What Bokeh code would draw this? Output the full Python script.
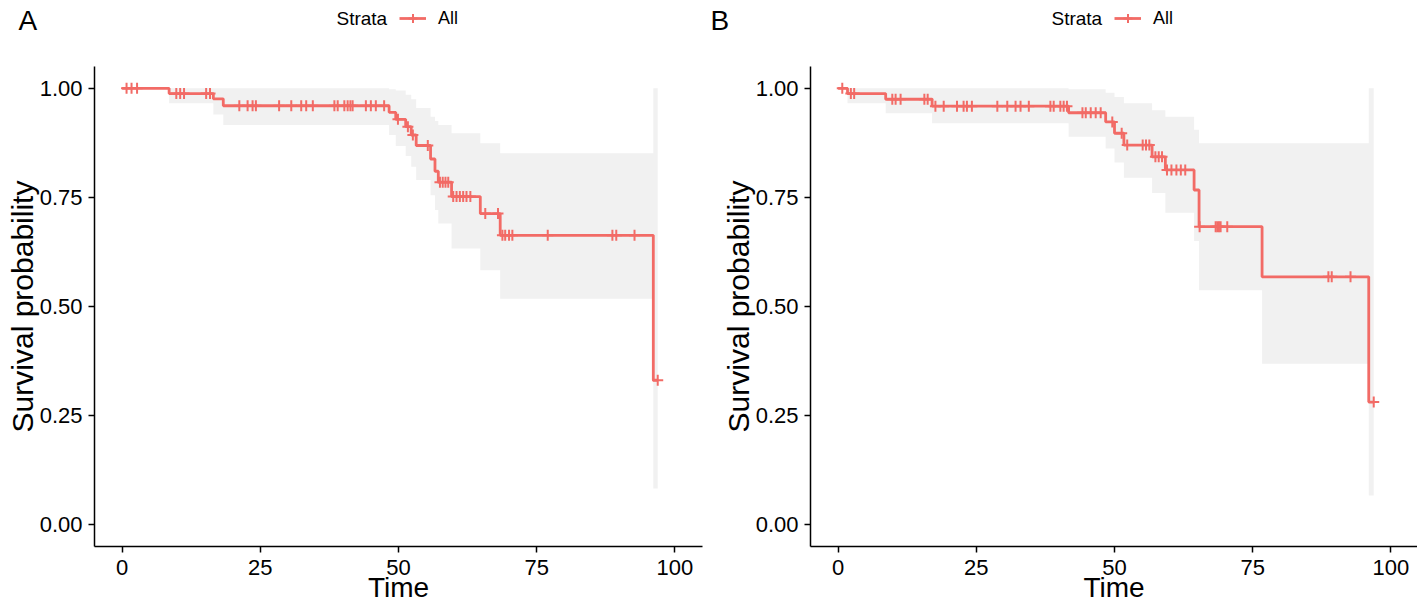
import numpy as np
from bokeh.plotting import figure
from bokeh.layouts import row, column
from bokeh.models import (Range1d, FixedTicker, NumeralTickFormatter, Legend,
                          LegendItem, ColumnDataSource, Label)
from bokeh.embed import file_html
from bokeh.resources import INLINE

# ---------------- data ----------------
# Panel A
A_times = [0, 8.5, 16.5, 18.3, 48.3, 49.5, 51.3, 52.3, 53.2, 55.8, 56.6, 57.2, 59.6, 64.8, 68.4, 96.1]
A_surv = [1.0, 0.988, 0.976, 0.960, 0.945, 0.929, 0.912, 0.893, 0.869, 0.838, 0.810, 0.785, 0.752, 0.713, 0.663, 0.331]
A_lower = [1.0, 0.966, 0.940, 0.916, 0.893, 0.868, 0.845, 0.820, 0.790, 0.755, 0.721, 0.690, 0.633, 0.583, 0.518, 0.083]
A_upper = [1.0, 1.0, 1.0, 1.0, 0.998, 0.995, 0.985, 0.975, 0.955, 0.935, 0.925, 0.916, 0.897, 0.874, 0.851, 1.0]
A_end = 96.9
A_censor = [0.8, 1.7, 2.7, 9.8, 10.5, 11.2, 15.2, 15.9, 21.2, 22.7, 23.6, 24.2, 28.4, 30.6,
            32.4, 33.3, 34.5, 38.4, 39.0, 40.2, 40.8, 41.3, 41.7, 44.1, 45.0, 45.9, 47.4,
            49.9, 51.7, 52.6, 55.3, 57.5, 58.0, 58.5, 59.0, 59.9, 60.5, 61.1, 61.7, 62.3,
            63.0, 65.7, 68.0, 68.8, 69.3, 70.0, 70.6, 77.0, 88.7, 89.4, 92.7, 96.9]

# Panel B
B_times = [0, 1.7, 8.6, 17.0, 41.7, 48.4, 50.0, 51.7, 56.8, 59.2, 64.4, 65.3, 76.7, 96.0]
B_surv = [1.0, 0.988, 0.975, 0.959, 0.944, 0.923, 0.897, 0.870, 0.843, 0.813, 0.767, 0.683, 0.568, 0.281]
B_lower = [1.0, 0.966, 0.943, 0.920, 0.889, 0.862, 0.830, 0.795, 0.760, 0.715, 0.650, 0.537, 0.369, 0.067]
B_upper = [1.0, 1.0, 1.0, 1.0, 0.998, 0.990, 0.980, 0.966, 0.950, 0.935, 0.905, 0.874, 0.874, 1.0]
B_end = 96.9
B_censor = [0.75, 2.3, 2.9, 9.8, 10.4, 11.3, 15.6, 16.2, 17.6, 19.1, 21.5, 22.7, 23.3, 24.2,
            28.8, 30.6, 32.1, 33.0, 34.5, 38.4, 39.0, 40.2, 40.8, 41.4, 44.2, 44.8, 45.7,
            46.6, 47.5, 49.6, 51.3, 52.3, 55.1, 55.7, 56.3, 57.4, 58.0, 58.6, 59.5, 60.3,
            61.2, 62.0, 62.8, 65.4, 68.3, 68.6, 68.9, 69.2, 70.4, 88.7, 89.3, 92.7, 96.9]

x_ticks = [0, 25, 50, 75, 100]
y_ticks = [0, 0.25, 0.5, 0.75, 1.0]
panel_letters = ["A", "B"]
strata_title = "Strata"
strata_label = "All"

# ---------------- style ----------------
LINE = "#F26B66"
BAND = "#F1F1F1"
FONT = "Liberation Sans"
PAGE_W = 1417
HEAD_H = 40          # strip holding the panel letters and the legends
PLOT_H = 605 - HEAD_H


def surv_at(times, surv, t):
    idx = int(np.searchsorted(times, t, side="right")) - 1
    return surv[idx]


def header():
    # one strip over both panels; its data space is in page pixels
    h = figure(width=PAGE_W, height=HEAD_H, output_backend="svg", toolbar_location=None,
               x_range=Range1d(0, PAGE_W), y_range=Range1d(0, HEAD_H),
               x_axis_location=None, y_axis_location=None,
               min_border=0, min_border_left=0, min_border_right=0,
               min_border_top=0, min_border_bottom=0)
    h.grid.visible = False
    h.outline_line_color = None
    # legend key renderers (styled as the curves; no visible points of their own)
    k_line = h.line(x=[np.nan], y=[np.nan], line_color=LINE, line_width=2.8)
    k_cross = h.scatter(x=[np.nan], y=[np.nan], marker="cross", size=11,
                        line_color=LINE, line_width=2)
    for letter, letter_x, title_x, key_x in zip(panel_letters, [18, 710],
                                                [336, 1051], [399, 1114]):
        legend = Legend(items=[LegendItem(label=strata_label,
                                          renderers=[k_line, k_cross])],
                        location=(key_x, 11), orientation="horizontal",
                        padding=0, margin=0, spacing=0,
                        border_line_color=None, background_fill_alpha=0,
                        glyph_width=27, glyph_height=22, label_standoff=12,
                        label_text_font=FONT, label_text_font_size="18px",
                        label_text_color="black")
        h.add_layout(legend)
        h.add_layout(Label(x=title_x, y=HEAD_H - 17.5, text=strata_title,
                           text_font=FONT, text_font_size="19px",
                           text_baseline="middle", text_align="left",
                           text_color="black"))
        h.add_layout(Label(x=letter_x, y=HEAD_H - 20, text=letter, text_font=FONT,
                           text_font_size="28px", text_baseline="middle",
                           text_align="left", text_color="black"))
    return h


def km_panel(times, surv, lower, upper, end, censor, x_end, width,
             border_left, border_right):
    p = figure(width=width, height=PLOT_H, output_backend="svg", toolbar_location=None,
               x_range=Range1d(-5, x_end), y_range=Range1d(-0.05, 1.05),
               min_border_left=border_left, min_border_right=border_right,
               min_border_top=66 - HEAD_H, min_border_bottom=59)
    xs = list(times) + [end]
    band = ColumnDataSource(dict(x=xs, lo=list(lower) + [lower[-1]],
                                 hi=list(upper) + [upper[-1]]))
    p.varea_step(x="x", y1="lo", y2="hi", step_mode="after", source=band,
                 fill_color=BAND)
    src = ColumnDataSource(dict(x=xs, y=list(surv) + [surv[-1]]))
    p.step(x="x", y="y", mode="after", source=src, line_color=LINE, line_width=2.8)
    cy = [surv_at(times, surv, t) for t in censor]
    p.scatter(x=censor, y=cy, marker="cross", size=11, line_color=LINE, line_width=2)

    p.grid.visible = False
    p.outline_line_color = None

    for ax in (p.xaxis, p.yaxis):
        ax.axis_line_color = "black"
        ax.axis_line_width = 1.5
        ax.major_tick_line_color = "black"
        ax.major_tick_line_width = 1.5
        ax.major_tick_out = 6
        ax.major_tick_in = 0
        ax.minor_tick_line_color = None
        ax.major_label_text_font = FONT
        ax.major_label_text_font_size = "22px"
        ax.major_label_text_color = "black"
        ax.axis_label_text_font = FONT
        ax.axis_label_text_font_style = "normal"
        ax.axis_label_text_color = "black"
    p.xaxis.axis_label_text_font_size = "28px"
    p.yaxis.axis_label_text_font_size = "30px"

    p.xaxis.ticker = FixedTicker(ticks=x_ticks)
    p.yaxis.ticker = FixedTicker(ticks=y_ticks)
    p.yaxis.formatter = NumeralTickFormatter(format="0.00")
    p.xaxis.formatter = NumeralTickFormatter(format="0")
    p.xaxis.axis_label = "Time"
    p.yaxis.axis_label = "Survival probability"
    p.xaxis.major_label_standoff = 7
    p.yaxis.major_label_standoff = 6
    p.xaxis.axis_label_standoff = -6
    p.yaxis.axis_label_standoff = -2
    return p


# frame of A spans 608 px for 110 time units; B's frame is cut by the page edge
pA = km_panel(A_times, A_surv, A_lower, A_upper, A_end, A_censor,
              105, 708, 94, 6)
pB = km_panel(B_times, B_surv, B_lower, B_upper, B_end, B_censor,
              -5 + 607 * 110 / 608, 709, 102, 0)

layout = column(header(), row(pA, pB))
open("out.html", "w").write(file_html(layout, INLINE))
